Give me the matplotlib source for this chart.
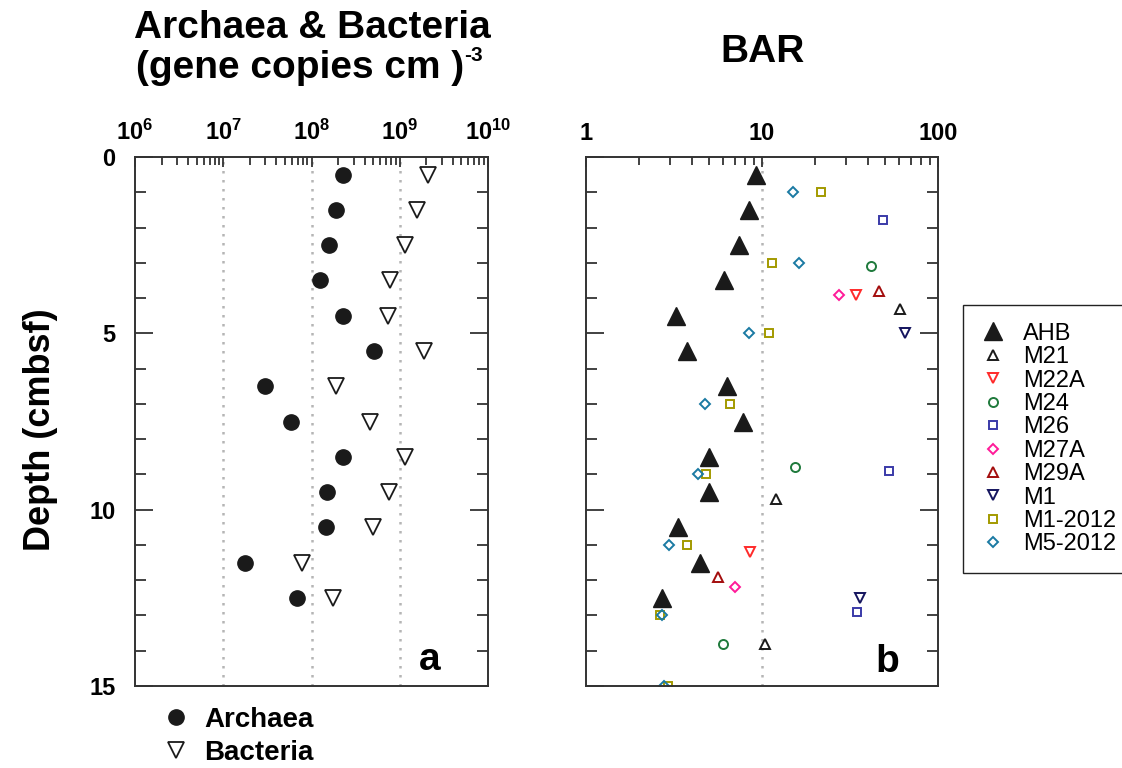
import numpy as np
import matplotlib
matplotlib.use('Agg')
import matplotlib.pyplot as plt
from matplotlib.ticker import FixedLocator, NullFormatter, FixedFormatter

plt.rcParams['font.family'] = ['Liberation Sans', 'DejaVu Sans']
plt.rcParams['mathtext.fontset'] = 'custom'
plt.rcParams['mathtext.rm'] = 'Liberation Sans:bold'
plt.rcParams['mathtext.bf'] = 'Liberation Sans:bold'
plt.rcParams['mathtext.it'] = 'Liberation Sans:bold'

# ---------------- data: panel a ----------------
depth_a = [0.5, 1.5, 2.5, 3.5, 4.5, 5.5, 6.5, 7.5, 8.5, 9.5, 10.5, 11.5, 12.5]
archaea = [2.3e8, 1.9e8, 1.57e8, 1.26e8, 2.25e8, 5.1e8, 3.0e7, 5.8e7, 2.3e8, 1.5e8, 1.47e8, 1.75e7, 6.9e7]
bacteria = [2.1e9, 1.57e9, 1.16e9, 7.8e8, 7.3e8, 1.86e9, 1.9e8, 4.6e8, 1.16e9, 7.55e8, 5.0e8, 7.9e7, 1.74e8]

# ---------------- data: panel b (BAR) ----------------
ahb_depth = [0.5, 1.5, 2.5, 3.5, 4.5, 5.5, 6.5, 7.5, 8.5, 9.5, 10.5, 11.5, 12.5]
ahb_bar = [9.2, 8.4, 7.4, 6.1, 3.25, 3.73, 6.34, 7.8, 4.97, 5.03, 3.35, 4.46, 2.72]
m21_depth = [4.3, 9.7, 13.8]
m21_bar = [61, 12.0, 10.4]
m22a_depth = [3.9, 11.2]
m22a_bar = [34, 8.5]
m24_depth = [3.1, 8.8, 13.8]
m24_bar = [41.7, 15.4, 6.0]
m26_depth = [1.8, 8.9, 12.9]
m26_bar = [48.8, 53, 34.6]
m27a_depth = [3.9, 12.2]
m27a_bar = [27.3, 7.06]
m29a_depth = [3.8, 11.9]
m29a_bar = [46.3, 5.66]
m1_depth = [5.0, 12.5]
m1_bar = [65.3, 36]
m1_2012_depth = [1, 3, 5, 7, 9, 11, 13, 15]
m1_2012_bar = [21.7, 11.4, 10.9, 6.6, 4.8, 3.76, 2.63, 2.92]
m5_2012_depth = [1, 3, 5, 7, 9, 11, 13, 15]
m5_2012_bar = [15.0, 16.2, 8.4, 4.73, 4.32, 2.96, 2.69, 2.76]

W, H = 1122, 768
fig = plt.figure(figsize=(W / 100, H / 100), dpi=100)

axa = fig.add_axes([135 / W, 1 - 686 / H, (488 - 135) / W, (686 - 157) / H])
axb = fig.add_axes([586 / W, 1 - 686 / H, (938 - 586) / W, (686 - 157) / H])

def style_axis(ax, xlim, decades, minors, ylabels):
    ax.set_xscale('log')
    ax.set_xlim(*xlim)
    ax.set_ylim(15, 0)
    ax.xaxis.set_major_locator(FixedLocator(decades))
    ax.xaxis.set_minor_locator(FixedLocator(minors))
    ax.xaxis.set_minor_formatter(NullFormatter())
    ax.yaxis.set_major_locator(FixedLocator([0, 5, 10, 15]))
    ax.yaxis.set_minor_locator(FixedLocator(list(range(16))))
    ax.xaxis.tick_top()
    ax.tick_params(axis='x', which='both', direction='in', top=True, bottom=False,
                   labeltop=True, labelbottom=False, pad=9, labelsize=17, width=1.3, color='#333333')
    ax.tick_params(axis='x', which='major', length=7)
    ax.tick_params(axis='x', which='minor', length=6)
    ax.tick_params(axis='y', which='both', direction='in', left=True, right=True,
                   labelleft=ylabels, labelright=False, width=1.3, color='#333333', labelsize=17, pad=14)
    ax.tick_params(axis='y', which='major', length=13)
    ax.tick_params(axis='y', which='minor', length=8)
    for lab in ax.get_xticklabels() + ax.get_yticklabels():
        lab.set_fontweight('bold')
    for s in ax.spines.values():
        s.set_linewidth(1.4)
        s.set_color('#333333')
    for d in decades[1:-1]:
        ax.axvline(d, color='#b5b5b5', lw=1.8, linestyle=(0, (1, 2.6)), zorder=0)

dec_a = [1e6, 1e7, 1e8, 1e9, 1e10]
min_a = [m * 10.0 ** e for e in range(6, 10) for m in range(2, 10)]
style_axis(axa, (1e6, 1e10), dec_a, min_a, True)
axa.xaxis.set_major_formatter(FixedFormatter([r'$\mathbf{10^{6}}$', r'$\mathbf{10^{7}}$',
                                               r'$\mathbf{10^{8}}$', r'$\mathbf{10^{9}}$',
                                               r'$\mathbf{10^{10}}$']))

dec_b = [1, 10, 100]
min_b = [m * 10.0 ** e for e in range(0, 2) for m in range(2, 10)]
style_axis(axb, (1, 100), dec_b, min_b, False)
axb.xaxis.set_major_formatter(FixedFormatter(['1', '10', '100']))
for lab in axb.get_xticklabels():
    lab.set_fontweight('bold')

# panel a points
h_arch, = axa.plot(archaea, depth_a, 'o', ms=11, color='#1a1a1a', mec='#1a1a1a', ls='none', label='Archaea')
h_bact, = axa.plot(bacteria, depth_a, 'v', ms=11, mfc='white', mec='#1a1a1a', mew=1.3, ls='none', label='Bacteria')

# panel b points
series_b = [
    (ahb_bar, ahb_depth, 'AHB', '^', 13, '#1a1a1a', True),
    (m21_bar, m21_depth, 'M21', '^', 6.5, '#1a1a1a', False),
    (m22a_bar, m22a_depth, 'M22A', 'v', 6.5, '#ff2a2a', False),
    (m24_bar, m24_depth, 'M24', 'o', 6.5, '#1f7a3c', False),
    (m26_bar, m26_depth, 'M26', 's', 6, '#3a3aa8', False),
    (m27a_bar, m27a_depth, 'M27A', 'D', 5.5, '#ff1a99', False),
    (m29a_bar, m29a_depth, 'M29A', '^', 6.5, '#a30d0d', False),
    (m1_bar, m1_depth, 'M1', 'v', 6.5, '#14145e', False),
    (m1_2012_bar, m1_2012_depth, 'M1-2012', 's', 6, '#a39a00', False),
    (m5_2012_bar, m5_2012_depth, 'M5-2012', 'D', 5.5, '#1a7aa3', False),
]
handles_b = []
for xs, ys, lab, mk, ms, col, filled in series_b:
    if filled:
        h, = axb.plot(xs, ys, mk, ms=ms, color=col, ls='none', label=lab)
    else:
        h, = axb.plot(xs, ys, mk, ms=ms, mfc='none', mec=col, mew=1.4, ls='none', label=lab)
    handles_b.append(h)

# panel letters
axa.text(0.836, 0.030, 'a', transform=axa.transAxes, fontsize=28, fontweight='bold', ha='center', va='baseline')
axb.text(0.855, 0.027, 'b', transform=axb.transAxes, fontsize=28, fontweight='bold', ha='center', va='baseline')

# titles
fig.text(312 / W, 1 - 38 / H, 'Archaea & Bacteria', fontsize=28, fontweight='bold', ha='center', va='baseline')
fig.text(300 / W, 1 - 78 / H, '(gene copies cm )', fontsize=28, fontweight='bold', ha='center', va='baseline')
fig.text(464 / W, 1 - 61 / H, '-3', fontsize=15, fontweight='bold', ha='left', va='baseline')
fig.text(763 / W, 1 - 62 / H, 'BAR', fontsize=28, fontweight='bold', ha='center', va='baseline')

# y label
fig.text(41 / W, 1 - 430 / H, 'Depth (cmbsf)', fontsize=26, fontweight='bold', rotation=90,
         ha='center', va='center')

# legends
fig.legend([h_arch, h_bact], ['Archaea', 'Bacteria'], loc='upper left',
           bbox_to_anchor=(162 / W, 1 - 707 / H), frameon=False, borderpad=0, borderaxespad=0,
           handlelength=1.0, handletextpad=0.53, labelspacing=0.25,
           prop={'weight': 'bold', 'size': 20})

fig.legend(handles_b, [s[2] for s in series_b], loc='upper left',
           bbox_to_anchor=(963 / W, 1 - 305 / H), frameon=True, fancybox=False,
           edgecolor='#222222', borderpad=0.75, borderaxespad=0, handlelength=1.0,
           handletextpad=0.78, labelspacing=0.06, fontsize=17, framealpha=1)

fig.savefig('out.png', dpi=100)
